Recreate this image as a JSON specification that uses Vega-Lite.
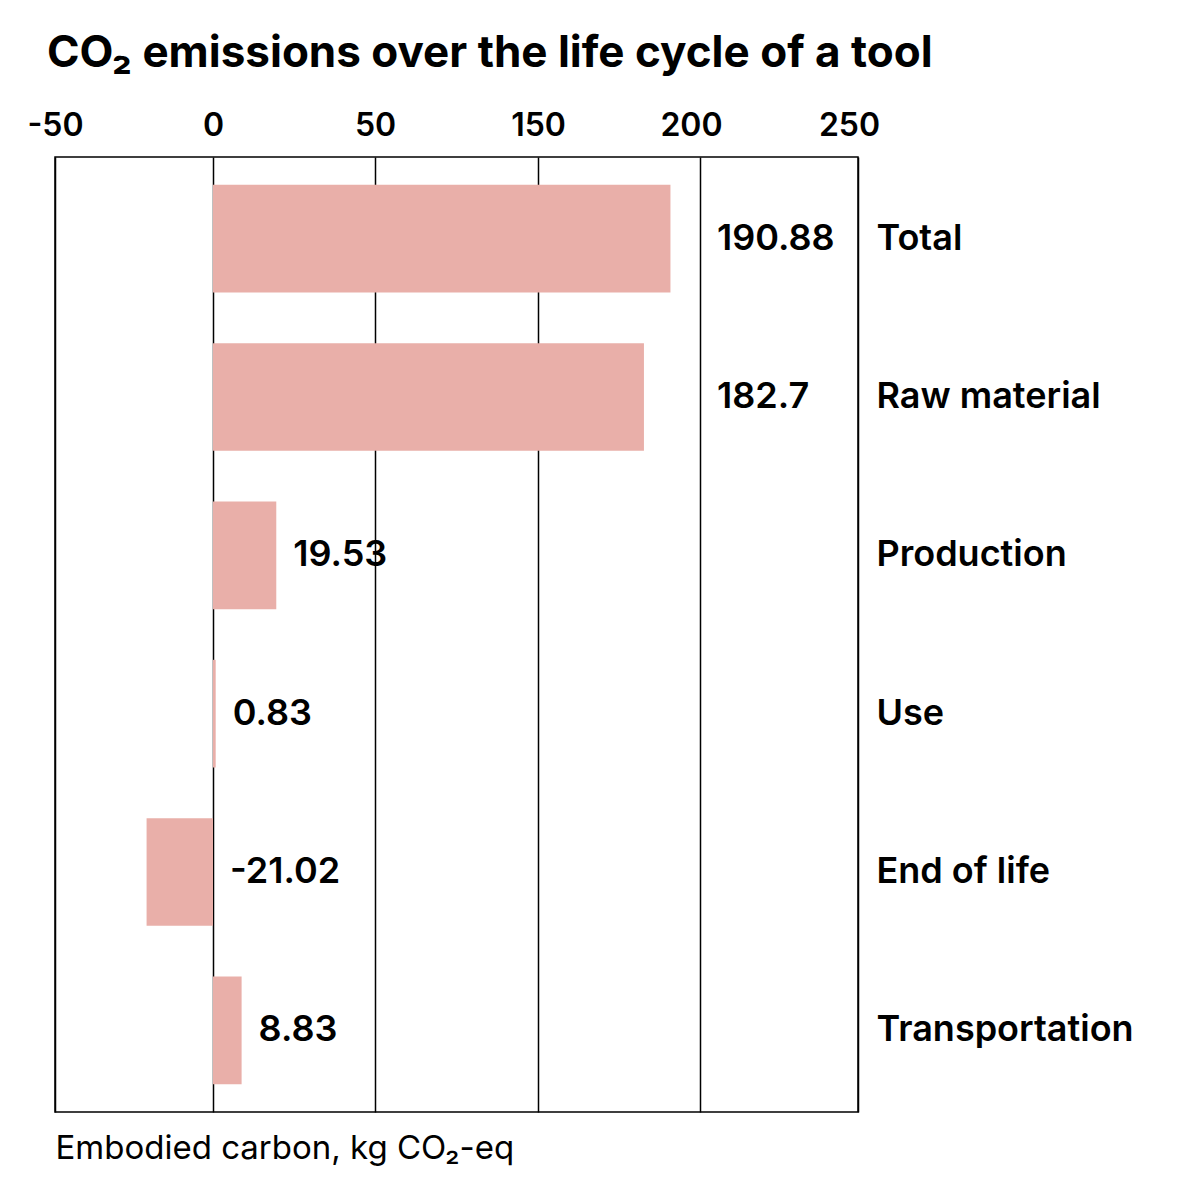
{
  "$schema": "https://vega.github.io/schema/vega-lite/v6.json",
  "autosize": {"type": "none"},
  "padding": {"left": 55, "top": 157, "right": 322, "bottom": 87},
  "width": 803,
  "height": 955,
  "background": "white",
  "title": {
    "text": "CO₂ emissions over the life cycle of a tool",
    "anchor": "start",
    "frame": "group",
    "font": "Inter",
    "fontSize": 44,
    "fontWeight": "bold",
    "color": "black",
    "dx": -8,
    "offset": 33
  },
  "data": {
    "values": [
      {"stage": "Total", "value": 190.88},
      {"stage": "Raw material", "value": 182.7},
      {"stage": "Production", "value": 19.53},
      {"stage": "Use", "value": 0.83},
      {"stage": "End of life", "value": -21.02},
      {"stage": "Transportation", "value": 8.83}
    ]
  },
  "config": {
    "view": {"stroke": "black", "strokeWidth": 1.5},
    "font": "Inter"
  },
  "encoding": {
    "y": {
      "field": "stage",
      "type": "nominal",
      "sort": null,
      "scale": {"paddingInner": 0.32, "paddingOuter": 0.176},
      "axis": {
        "orient": "right",
        "title": null,
        "ticks": false,
        "domain": false,
        "labelPadding": 18,
        "labelLimit": 0,
        "labelFont": "Inter",
        "labelFontSize": 36,
        "labelFontWeight": 600,
        "labelColor": "black",
        "labelAlign": "left"
      }
    }
  },
  "layer": [
    {
      "mark": {"type": "bar", "color": "#E9AFA9"},
      "encoding": {
        "x": {
          "field": "value",
          "type": "quantitative",
          "scale": {"domain": [-50, 0, 50, 150, 200, 250], "range": [0, 158, 320, 483, 645, 803], "nice": false, "zero": false},
          "axis": {
            "orient": "top",
            "values": [-50, 0, 50, 150, 200, 250],
            "labelExpr": "datum.value + ''",
            "grid": true,
            "gridColor": "black",
            "gridWidth": 1.5,
            "gridOpacity": 1,
            "ticks": false,
            "domain": false,
            "labelPadding": 22,
            "labelBaseline": "alphabetic",
            "labelOffset": {"condition": {"test": "datum.value >= 200", "value": -9}, "value": 0},
            "labelFont": "Inter",
            "labelFontSize": 32,
            "labelFontWeight": 600,
            "labelColor": "black",
            "labelFlush": false,
            "title": "Embodied carbon, kg CO₂-eq",
            "titleFont": "Inter",
            "titleFontSize": 33,
            "titleFontWeight": "normal",
            "titleColor": "black",
            "titleAnchor": "start",
            "titleAlign": "left",
            "titleBaseline": "alphabetic",
            "titleX": 0,
            "titleY": 1001
          }
        }
      }
    },
    {
      "transform": [{"calculate": "datum.value > 150 ? 200 : max(datum.value, 0)", "as": "labelX"}],
      "mark": {"type": "text", "align": "left", "baseline": "middle", "dx": 17, "font": "Inter", "fontSize": 36, "fontWeight": 600, "color": "black"},
      "encoding": {
        "x": {"field": "labelX", "type": "quantitative"},
        "text": {"field": "value", "type": "nominal"}
      }
    }
  ]
}
